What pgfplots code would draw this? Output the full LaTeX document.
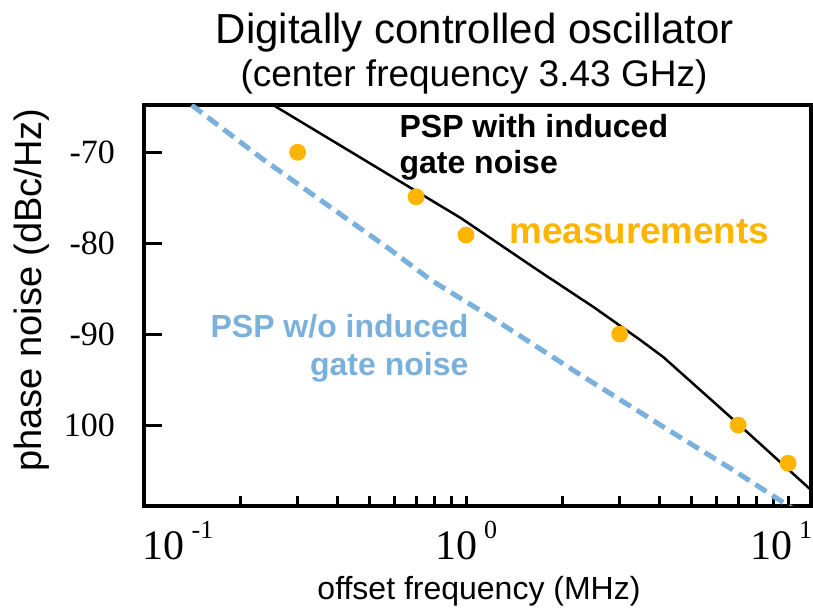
\documentclass[border=0pt]{standalone}
\usepackage{pgfplots}
\pgfplotsset{compat=1.18}
\usepackage{fontspec}
\setmainfont{Liberation Sans}
\newfontfamily\serif{Liberation Serif}
\definecolor{meas}{RGB}{255,180,0}
\definecolor{psp}{RGB}{122,176,220}
\newcommand{\xt}[1]{{\serif\fontsize{21}{24}\selectfont 10\,\raisebox{0.5em}{\fontsize{13}{14}\selectfont #1}}}
\begin{document}
\begin{tikzpicture}
\begin{axis}[
  scale only axis,
  width=333.5pt, height=200.5pt,
  xmode=log,
  xmin=0.1, xmax=11.78,
  ymin=-108.9, ymax=-64.8,
  axis line style={line width=2pt},
  tick style={line width=1.5pt, black},
  tickpos=left,
  tick align=inside,
  xtick={0.1,1,10},
  xticklabels={\hspace{34pt}\xt{-1},\xt{0},\xt{1}\rule{7pt}{0pt}},
  minor x tick num=8,
  major tick length=5pt,
  minor tick length=5pt,
  ytick={-70,-80,-90,-100},
  yticklabels={-70,-80,-90,100},
  yticklabel style={font=\serif\fontsize{17}{20}\selectfont, xshift=-11pt},
  xticklabel style={yshift=-4pt},
  y tick style={draw=none},
  clip=true,
]
\addplot[black, line width=1.25pt] coordinates {
 (0.2,-62.7) (0.2527,-64.84) (0.965,-77.25) (1.671,-82.97) (2.49,-87.03)
 (3.48,-90.66) (4.10,-92.53) (6.95,-99.78) (11.78,-107.14)
};
\addplot[psp, line width=2.5pt, dash pattern=on 6.5pt off 3.5pt] coordinates {
 (0.1,-60.8) (0.141,-64.84) (0.2318,-70.66) (0.5735,-80.55) (0.779,-84.07)
 (1.195,-88.13) (2.222,-94.29) (4.10,-100.2) (6.755,-104.95) (10.14,-109.0) (11,-109.8)
};
\addplot[only marks, mark=*, mark size=4pt, meas, mark options={draw=meas, fill=meas}] coordinates {
 (0.3,-70.0) (0.7,-74.9) (1.0,-79.1) (3.0,-90.0) (7.0,-100.0) (10.0,-104.2)
};
\node[anchor=base west, font=\bfseries\fontsize{16}{19}\selectfont, inner sep=0pt] at (axis cs:0.62,-68.35) {PSP with induced};
\node[anchor=base west, font=\bfseries\fontsize{16}{19}\selectfont, inner sep=0pt] at (axis cs:0.62,-72.31) {gate noise};
\node[anchor=base west, font=\bfseries\fontsize{18.4}{21}\selectfont, text=meas, inner sep=0pt] at (axis cs:1.36,-80.0) {measurements};
\node[anchor=base east, font=\bfseries\fontsize{16}{19}\selectfont, text=psp, inner sep=0pt] at (axis cs:1.02,-90.33) {PSP w/o induced};
\node[anchor=base east, font=\bfseries\fontsize{16}{19}\selectfont, text=psp, inner sep=0pt] at (axis cs:1.02,-94.5) {gate noise};
\end{axis}
\begin{axis}[
  scale only axis,
  width=333.5pt, height=200.5pt,
  xmode=log,
  xmin=0.1, xmax=11.78,
  ymin=-108.9, ymax=-64.8,
  axis line style={draw=none},
  tick style={line width=1.5pt, black},
  tickpos=left,
  tick align=inside,
  xtick=\empty,
  minor x tick num=0,
  ytick={-70,-80,-90,-100},
  yticklabels={},
  major tick length=9pt,
]
\end{axis}
\node[anchor=base, font=\fontsize{21}{25}\selectfont, inner sep=0pt] at (165.5pt,231pt) {Digitally controlled oscillator};
\node[anchor=base, font=\fontsize{18.5}{22}\selectfont, inner sep=0pt] at (165pt,209.5pt) {(center frequency 3.43 GHz)};
\node[anchor=base, font=\fontsize{16}{19}\selectfont, inner sep=0pt] at (167.5pt,-47pt) {offset frequency (MHz)};
\node[anchor=base, rotate=90, font=\fontsize{19}{22}\selectfont, inner sep=0pt] at (-51pt,108pt) {phase noise (dBc/Hz)};
\pgfresetboundingbox
\path[use as bounding box] (-72pt,-53.5pt) rectangle (334.5pt,253pt);
\end{tikzpicture}
\end{document}
